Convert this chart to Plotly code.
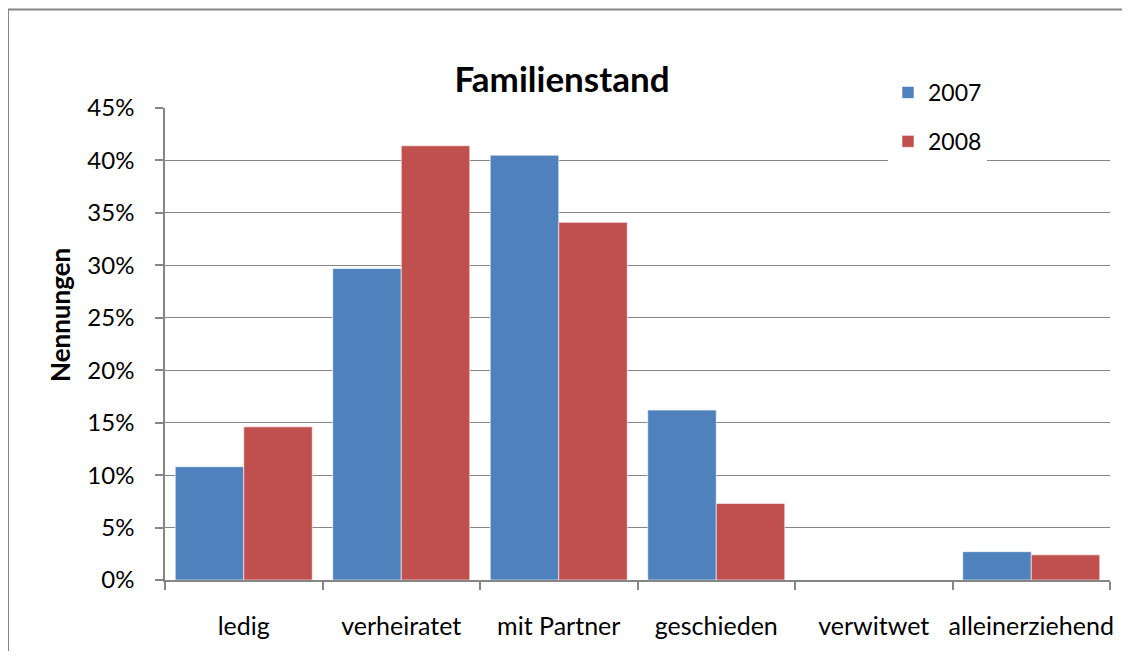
import plotly.graph_objects as go

categories = ["ledig", "verheiratet", "mit Partner", "geschieden", "verwitwet", "alleinerziehend"]
values_2007 = [0.108, 0.297, 0.405, 0.162, 0.0, 0.027]
values_2008 = [0.146, 0.414, 0.341, 0.073, 0.0, 0.024]
series_names = ["2007", "2008"]
tick_vals = [0, 0.05, 0.10, 0.15, 0.20, 0.25, 0.30, 0.35, 0.40, 0.45]

FONT = "Lato"
GRID = "#868686"

W, H = 1114, 643
ML, MR, MT, MB = 157, 12, 100, 71
PW = W - ML - MR
PH = H - MT - MB

def px_x(x):
    return (x - ML) / PW

def px_y(y):
    return 1 - (y - MT) / PH

fig = go.Figure()
fig.add_trace(go.Bar(x=categories, y=values_2007, name=series_names[0], legendgroup="a",
                     marker=dict(color="#4F81BD", line=dict(color="rgba(255,255,255,0.6)", width=1))))
fig.add_trace(go.Bar(x=categories, y=values_2008, name=series_names[1], legendgroup="b",
                     marker=dict(color="#C0504D", line=dict(color="rgba(255,255,255,0.6)", width=1))))

fig.update_layout(
    width=W, height=H,
    margin=dict(l=ML, r=MR, t=MT, b=MB, pad=0, autoexpand=False),
    paper_bgcolor="white", plot_bgcolor="white",
    barmode="group", bargap=0.13, bargroupgap=0,
    font=dict(family=FONT, size=23, color="black"),
    title=dict(text="<b>Familienstand</b>", x=px_x(554), xanchor="center", xref="paper",
               y=1 - 72 / H, yanchor="middle", font=dict(family=FONT, size=35, color="black")),
    legend=dict(x=px_x(880), y=px_y(63), xanchor="left", yanchor="top",
                bgcolor="white", borderwidth=0, font=dict(family=FONT, size=23),
                traceorder="grouped", tracegroupgap=16, itemwidth=30),
    showlegend=True,
    annotations=[dict(text="<b>Nennungen</b>", xref="paper", yref="paper",
                      x=px_x(52), y=px_y(307), xanchor="center", yanchor="middle",
                      textangle=-90, showarrow=False, font=dict(family=FONT, size=26, color="black"))],
)

fig.update_yaxes(range=[0, 0.45], tickvals=tick_vals, tickformat=".0%",
                 showgrid=True, gridcolor=GRID, gridwidth=1,
                 showline=True, linecolor=GRID, linewidth=1.5,
                 ticks="outside", ticklen=8, tickcolor=GRID, tickwidth=1.5,
                 zeroline=False, ticklabelstandoff=16, automargin=False,
                 tickfont=dict(family=FONT, size=24))
fig.update_xaxes(showline=True, linecolor=GRID, linewidth=1.5,
                 ticks="outside", ticklen=8, tickcolor=GRID, tickwidth=1.5,
                 tickson="boundaries", showgrid=False, ticklabelstandoff=23,
                 tickangle=0, automargin=False, tickfont=dict(family=FONT, size=25))

# outer chart frame (left and top edges)
fig.add_shape(type="line", xref="paper", yref="paper",
              x0=px_x(0), x1=px_x(W + 5), y0=px_y(1.5), y1=px_y(1.5),
              line=dict(color=GRID, width=2))
fig.add_shape(type="line", xref="paper", yref="paper",
              x0=px_x(0), x1=px_x(0), y0=px_y(1.5), y1=px_y(H + 5),
              line=dict(color=GRID, width=2))

fig.write_html("out.html")
